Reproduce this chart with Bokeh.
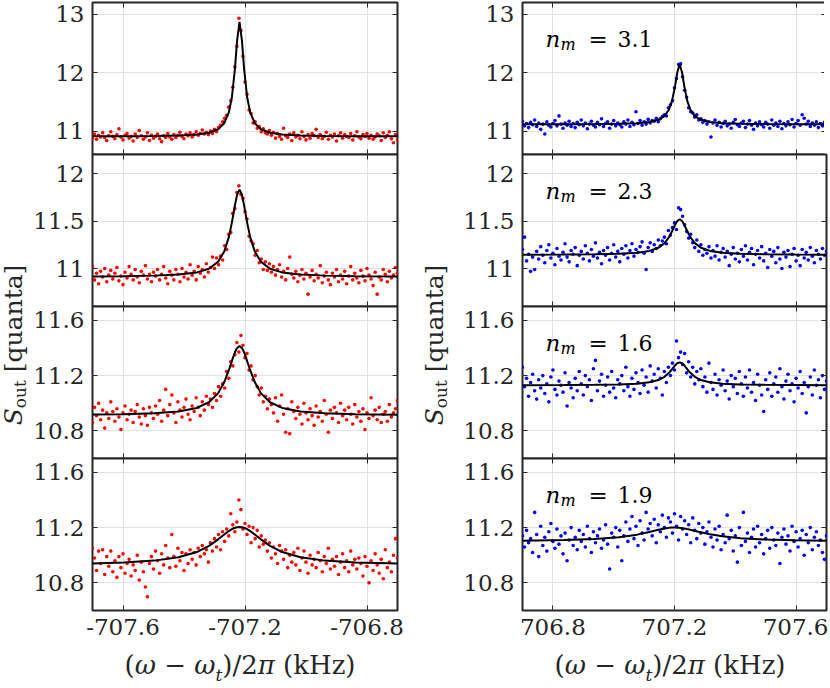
import numpy as np
from bokeh.plotting import figure
from bokeh.models import (FixedTicker, CustomJSTickFormatter, LinearAxis, Range1d,
                          Label, Div)
from bokeh.layouts import row, column
from bokeh.embed import file_html
from bokeh.resources import INLINE

# ---------------- data ----------------
left_sweep = (-707.70, -706.70)     # kHz, frequency sweep of the red traces
right_sweep = (706.70, 707.70)      # kHz, frequency sweep of the blue traces

left_xticks = [-707.6, -707.2, -706.8]
right_xticks = [706.8, 707.2, 707.6]
row_yticks = [[11, 12, 13], [11, 11.5, 12], [10.8, 11.2, 11.6], [10.8, 11.2, 11.6]]
row_yranges = [(10.6, 13.2), (10.6, 12.2), (10.6, 11.7), (10.6, 11.7)]
nm_values = ["3.1", "2.3", "1.6", "1.9"]

L1_y = [10.88, 10.95, 10.86, 10.93, 10.90, 10.97, 10.89, 10.84, 10.92, 10.99,
        10.91, 10.87, 10.94, 11.04, 10.90, 10.85, 10.93, 10.96, 10.88, 10.91,
        10.83, 10.95, 10.89, 11.01, 10.92, 10.86, 10.90, 10.97, 10.84, 10.93,
        10.88, 10.91, 10.95, 10.87, 10.82, 10.92, 10.89, 10.96, 10.90, 10.86,
        10.94, 10.89, 10.93, 10.98, 10.91, 10.87, 10.95, 10.92, 10.97, 10.90,
        10.94, 10.99, 10.93, 10.96, 11.02, 10.95, 10.98, 10.94, 11.00, 10.96,
        11.03, 10.99, 11.06, 11.10, 11.16, 11.22,
        11.27, 11.41, 11.52, 11.75, 12.10, 12.45, 12.93, 12.72, 12.28, 11.84,
        11.63, 11.36, 11.30, 11.14, 11.16, 11.05, 11.08, 10.99, 11.04, 10.97,
        10.95, 11.01, 10.93, 10.98, 10.88, 10.96, 10.91, 10.86, 11.05, 10.92,
        10.89, 10.95, 10.84, 10.97, 10.90, 10.93, 10.87, 10.99, 10.91, 10.85,
        10.94, 10.88, 10.96, 10.92, 11.03, 10.89, 10.94, 10.87, 10.91, 10.98,
        10.86, 10.93, 10.90, 10.95, 10.83, 10.92, 10.97, 10.88, 10.94, 10.91,
        10.89, 10.96, 10.85, 10.92, 10.99, 10.90, 10.87, 10.94, 10.91, 10.96,
        10.88, 10.93, 10.86, 10.90, 10.95, 10.92, 10.84, 10.97, 10.89, 10.93,
        10.99, 10.87, 10.80, 10.94, 10.85]

L2_y = [11.02, 10.88, 10.95, 10.84, 10.97, 10.91, 11.00, 10.86, 10.93, 10.98,
        10.89, 10.95, 11.01, 10.87, 10.92, 10.83, 10.96, 10.90, 11.02, 10.94,
        10.88, 10.99, 10.91, 10.85, 10.97, 10.93, 11.03, 10.89, 10.94, 10.86,
        10.96, 10.92, 10.99, 10.88, 10.94, 11.02, 10.90, 10.84, 10.97, 10.93,
        10.88, 10.99, 10.94, 10.86, 11.00, 10.91, 10.96, 10.89, 11.04, 10.93,
        10.97, 10.88, 11.02, 10.95, 10.99, 10.91, 11.05, 10.96, 11.01, 11.12,
        11.00, 11.11, 11.04, 11.13, 11.09, 11.24, 11.20, 11.36, 11.38, 11.58,
        11.63, 11.80, 11.87, 11.78, 11.74, 11.60, 11.52, 11.34, 11.29, 11.26,
        11.14, 11.19, 11.06, 11.10, 10.99, 11.07, 10.98, 11.05, 10.96, 11.02,
        10.93, 10.99, 11.04, 10.91, 10.97, 10.88, 11.00, 11.12, 10.94, 10.90,
        10.97, 10.86, 10.93, 10.99, 10.89, 10.95, 10.73, 10.91, 10.98, 10.87,
        10.94, 10.90, 11.03, 10.85, 10.92, 10.96, 10.88, 10.83, 10.95, 10.91,
        10.99, 10.86, 10.93, 10.89, 10.97, 10.84, 10.92, 11.02, 10.88, 10.95,
        10.90, 10.85, 10.98, 10.92, 10.87, 11.00, 10.93, 10.89, 10.82, 10.96,
        10.73, 10.91, 10.88, 10.99, 10.94, 10.86, 10.97, 10.90, 10.93, 11.01,
        10.95]

L3_y = [10.86, 10.97, 10.91, 11.00, 10.88, 10.95, 10.82, 10.93, 10.89, 11.01,
        10.94, 10.87, 10.96, 10.90, 10.81, 10.93, 10.98, 10.88, 10.92, 10.95,
        10.86, 10.94, 10.99, 10.90, 10.85, 10.96, 10.91, 10.84, 10.97, 10.93,
        10.89, 10.98, 10.92, 11.02, 10.87, 10.95, 11.10, 10.91, 10.99, 11.06,
        10.93, 10.86, 11.01, 10.95, 10.90, 10.97, 11.03, 10.92, 10.88, 10.98,
        10.94, 11.04, 10.97, 10.91, 11.01, 10.95, 11.05, 10.99, 11.03, 10.97,
        11.07, 11.02, 11.12, 11.05, 11.14, 11.11, 11.23, 11.18, 11.30, 11.27,
        11.35, 11.44, 11.37, 11.49, 11.42, 11.33, 11.36, 11.24, 11.27, 11.17,
        11.20, 11.12, 11.06, 11.11, 11.01, 11.05, 10.96, 11.03, 10.99, 10.93,
        11.04, 10.87, 10.98, 11.06, 10.92, 10.79, 10.96, 10.78, 11.01, 10.94,
        10.89, 10.97, 10.92, 10.85, 11.00, 10.93, 10.88, 10.96, 10.91, 10.84,
        10.98, 10.90, 10.94, 10.87, 11.02, 10.92, 10.79, 10.95, 10.89, 10.97,
        10.93, 10.86, 11.00, 10.91, 10.95, 10.88, 10.97, 10.92, 10.85, 10.99,
        10.90, 10.94, 10.87, 10.96, 10.81, 10.93, 10.89, 11.04, 10.91, 10.95,
        10.88, 10.97, 10.86, 10.92, 10.94, 10.87, 10.99, 10.90, 10.93, 10.96,
        11.02]

L4_y = [11.05, 10.98, 10.89, 11.03, 10.94, 11.04, 10.86, 10.99, 10.92, 11.03,
        10.88, 10.96, 10.84, 10.99, 10.91, 11.01, 10.87, 10.94, 10.97, 10.85,
        10.93, 10.89, 11.00, 10.82, 10.95, 10.88, 10.77, 10.70, 10.94, 10.99,
        10.90, 11.03, 10.96, 10.87, 11.01, 10.93, 11.07, 10.98, 10.91, 11.15,
        10.99, 10.92, 11.05, 10.96, 11.02, 10.89, 11.01, 10.94, 11.04, 10.97,
        11.02, 10.93, 11.05, 10.99, 11.07, 11.01, 11.04, 10.95, 11.09, 11.03,
        11.12, 11.06, 11.15, 11.04, 11.17, 11.10, 11.19, 11.14, 11.30, 11.22,
        11.17, 11.24, 11.40, 11.33, 11.19, 11.23, 11.15, 11.21, 11.09, 11.20,
        11.12, 11.18, 11.06, 11.14, 11.08, 11.11, 11.03, 11.09, 10.98, 11.06,
        11.01, 10.94, 11.07, 11.03, 10.97, 11.04, 10.91, 11.00, 10.95, 11.02,
        10.93, 11.05, 10.89, 10.98, 11.03, 10.95, 10.87, 11.00, 10.93, 10.97,
        10.91, 11.02, 10.96, 10.88, 10.99, 10.94, 11.05, 10.90, 10.97, 10.92,
        10.99, 10.86, 10.95, 11.01, 10.91, 10.96, 10.88, 11.03, 10.93, 10.97,
        10.90, 10.98, 10.94, 10.85, 10.99, 10.92, 10.80, 10.96, 10.89, 11.01,
        10.93, 10.87, 10.97, 10.83, 11.04, 10.91, 10.95, 10.88, 11.00, 11.12,
        10.98]

R1_y = [11.17, 11.09, 11.13, 11.06, 11.15, 11.11, 11.19, 11.08, 11.14, 11.03,
        11.12, 10.95, 11.16, 11.10, 11.07, 11.13, 11.18, 11.09, 11.26, 11.12,
        11.05, 11.14, 11.10, 11.17, 11.08, 11.13, 11.06, 11.15, 11.11, 11.19,
        11.09, 11.14, 11.04, 11.12, 11.17, 11.10, 11.07, 11.15, 11.11, 11.21,
        11.08, 11.13, 11.16, 11.05, 11.12, 11.18, 11.09, 11.14, 11.11, 11.07,
        11.16, 11.12, 11.19, 11.08, 11.15, 11.11, 11.33, 11.13, 11.18, 11.10,
        11.16, 11.12, 11.20, 11.14, 11.18, 11.17, 11.22, 11.16, 11.21, 11.25,
        11.28, 11.26, 11.40, 11.45, 11.52, 11.74, 11.90, 12.14, 12.15, 11.93,
        11.70, 11.58, 11.40, 11.33, 11.31, 11.24, 11.28, 11.19, 11.21, 11.15,
        11.18, 11.12, 11.16, 10.90, 11.14, 11.19, 11.10, 11.15, 11.07, 11.13,
        11.17, 11.09, 11.12, 11.05, 11.15, 11.20, 11.11, 11.08, 11.14, 11.17,
        11.06, 11.12, 11.18, 11.10, 11.03, 11.14, 11.09, 11.16, 11.11, 11.07,
        11.15, 11.12, 11.05, 11.19, 11.10, 11.14, 11.08, 11.17, 11.04, 11.13,
        11.09, 11.16, 11.11, 11.20, 11.07, 11.13, 11.18, 11.10, 11.28, 11.22,
        11.12, 11.17, 11.08, 11.14, 11.10, 11.16, 11.06, 11.13, 11.09, 11.15,
        11.11]

R2_y = [11.20, 11.33, 11.08, 11.15, 10.97, 11.12, 10.99, 11.18, 11.10, 11.23,
        11.14, 11.06, 11.19, 11.25, 11.11, 11.16, 11.04, 11.21, 11.13, 11.09,
        11.17, 11.26, 11.12, 11.07, 11.19, 11.15, 11.22, 11.03, 11.14, 11.18,
        11.10, 11.24, 11.16, 11.08, 11.20, 11.13, 11.27, 11.11, 11.17, 11.05,
        11.19, 11.14, 11.22, 11.09, 11.16, 11.25, 11.12, 11.18, 11.07, 11.21,
        11.15, 11.24, 11.11, 11.19, 11.26, 11.13, 11.20, 11.17, 11.23, 11.28,
        11.16, 10.99, 11.22, 11.27, 11.18, 11.25, 11.21, 11.30, 11.24, 11.29,
        11.33, 11.26, 11.40, 11.35, 11.43, 11.48, 11.41, 11.64, 11.62, 11.55,
        11.46, 11.39, 11.32, 11.36, 11.27, 11.22, 11.30, 11.18, 11.25, 11.14,
        11.20, 11.16, 11.23, 11.11, 11.19, 11.13, 11.24, 11.09, 11.17, 11.21,
        11.12, 11.18, 11.03, 11.15, 11.22, 11.10, 11.16, 11.07, 11.20, 11.13,
        11.24, 11.09, 11.17, 11.21, 11.04, 11.15, 11.19, 11.11, 11.23, 11.08,
        11.16, 11.01, 11.20, 11.13, 11.18, 11.06, 11.22, 11.10, 11.00, 11.17,
        11.12, 11.19, 11.02, 11.15, 11.21, 11.08, 11.14, 11.03, 11.20, 11.11,
        11.17, 11.09, 11.22, 11.13, 11.06, 11.19, 11.15, 11.10, 11.21, 11.14,
        11.18]

R3_y = [11.26, 11.12, 11.18, 11.05, 11.15, 11.21, 11.09, 11.03, 11.17, 11.11,
        11.20, 11.07, 11.14, 11.01, 11.19, 11.24, 11.10, 11.06, 11.16, 11.13,
        11.08, 11.22, 10.98, 11.15, 11.11, 11.04, 11.18, 11.09, 11.23, 11.14,
        11.06, 11.20, 11.12, 11.17, 11.02, 11.25, 11.31, 11.09, 11.16, 11.21,
        11.05, 11.13, 11.19, 11.08, 11.23, 11.11, 11.04, 11.17, 11.14, 11.20,
        11.09, 11.26, 11.12, 11.05, 11.18, 11.10, 11.22, 11.15, 11.07, 11.24,
        11.13, 11.19, 11.08, 11.27, 11.16, 11.21, 11.11, 11.25, 11.18, 11.06,
        11.23, 11.15, 11.26, 11.20, 11.29, 11.24, 11.45, 11.33, 11.37, 11.28,
        11.36, 11.22, 11.30, 11.19, 11.26, 11.14, 11.23, 11.17, 11.25, 11.12,
        11.19, 11.08, 11.29, 11.15, 11.10, 11.21, 11.06, 11.17, 11.13, 11.24,
        11.09, 11.16, 11.03, 11.20, 11.12, 11.18, 11.07, 11.23, 11.14, 11.05,
        11.19, 11.11, 11.24, 11.08, 11.15, 11.02, 11.21, 11.13, 11.06, 10.94,
        11.17, 11.10, 11.22, 11.05, 11.14, 11.19, 11.08, 11.25, 11.12, 11.03,
        11.16, 11.21, 11.09, 11.14, 11.01, 11.18, 11.11, 11.23, 11.07, 11.15,
        10.93, 11.12, 11.19, 11.06, 11.24, 11.13, 11.17, 11.04, 11.20, 11.10,
        11.16]

R4_y = [11.14, 11.06, 11.18, 11.09, 11.12, 11.02, 11.31, 11.15, 10.99, 11.21,
        11.07, 11.13, 11.03, 11.17, 11.23, 11.10, 11.05, 11.19, 11.08, 11.14,
        11.01, 11.16, 10.96, 11.11, 11.20, 11.07, 11.13, 11.04, 11.18, 11.10,
        11.15, 11.06, 11.21, 11.12, 11.02, 11.17, 11.09, 11.14, 11.19, 11.05,
        11.11, 11.22, 11.08, 10.90, 11.16, 11.13, 11.20, 11.06, 11.18, 10.96,
        11.14, 11.24, 11.10, 11.19, 11.28, 11.12, 11.21, 11.07, 11.25, 11.16,
        11.11, 11.31, 11.19, 11.23, 11.14, 11.26, 11.09, 11.22, 11.17, 11.29,
        11.20, 11.13, 11.27, 11.24, 11.16, 11.30, 11.21, 11.11, 11.28, 11.19,
        11.25, 11.15, 11.22, 11.09, 11.27, 11.18, 11.12, 11.23, 11.16, 11.20,
        11.08, 11.17, 11.24, 11.13, 11.06, 11.19, 11.11, 11.21, 11.04, 11.15,
        11.09, 11.29, 11.12, 11.18, 11.03, 11.14, 10.95, 11.20, 11.07, 11.31,
        11.10, 11.16, 11.02, 11.13, 11.19, 11.06, 11.21, 11.09, 11.15, 11.01,
        11.12, 11.18, 11.05, 11.20, 11.11, 11.07, 11.16, 10.94, 11.13, 11.19,
        11.08, 11.14, 11.03, 11.21, 11.10, 11.17, 11.06, 11.12, 11.18, 11.00,
        11.15, 11.09, 11.20, 11.04, 11.13, 11.17, 11.07, 11.11, 11.02, 10.97,
        11.14]

# fitted Lorentzian curves
left_fit_x = [-707.700, -707.598, -707.498, -707.418, -707.358, -707.318, -707.288,
              -707.268, -707.253, -707.243, -707.233, -707.226, -707.218, -707.210,
              -707.203, -707.193, -707.183, -707.168, -707.148, -707.118, -707.078,
              -707.018, -706.938, -706.838, -706.700]
right_fit_x = [706.700, 706.837, 706.937, 707.017, 707.077, 707.117, 707.147, 707.167,
               707.182, 707.192, 707.202, 707.209, 707.217, 707.225, 707.232, 707.242,
               707.252, 707.267, 707.287, 707.317, 707.357, 707.417, 707.497, 707.597,
               707.700]

L1_fit = [10.913, 10.914, 10.918, 10.926, 10.942, 10.972, 11.032, 11.135, 11.320, 11.579,
          12.067, 12.547, 12.870, 12.547, 12.067, 11.579, 11.320, 11.135, 11.032, 10.972,
          10.942, 10.926, 10.918, 10.914, 10.912]
L2_fit = [10.917, 10.919, 10.925, 10.936, 10.959, 10.998, 11.072, 11.180, 11.330, 11.483,
          11.665, 11.776, 11.830, 11.776, 11.665, 11.483, 11.330, 11.180, 11.072, 10.998,
          10.959, 10.936, 10.925, 10.919, 10.916]
L3_fit = [10.918, 10.921, 10.927, 10.940, 10.966, 11.007, 11.073, 11.153, 11.239, 11.306,
          11.369, 11.400, 11.413, 11.400, 11.369, 11.306, 11.239, 11.153, 11.073, 11.007,
          10.966, 10.940, 10.927, 10.921, 10.917]
L4_fit = [10.941, 10.948, 10.961, 10.985, 11.023, 11.068, 11.115, 11.150, 11.175, 11.189,
          11.199, 11.203, 11.205, 11.203, 11.199, 11.189, 11.175, 11.150, 11.115, 11.068,
          11.023, 10.985, 10.961, 10.948, 10.940]
R1_fit = [11.117, 11.118, 11.120, 11.125, 11.136, 11.155, 11.193, 11.257, 11.369, 11.517,
          11.774, 12.003, 12.145, 12.003, 11.774, 11.517, 11.369, 11.257, 11.193, 11.155,
          11.136, 11.125, 11.120, 11.118, 11.117]
R2_fit = [11.146, 11.147, 11.150, 11.155, 11.166, 11.185, 11.219, 11.267, 11.331, 11.392,
          11.460, 11.500, 11.518, 11.500, 11.460, 11.392, 11.331, 11.267, 11.219, 11.185,
          11.166, 11.155, 11.150, 11.147, 11.146]
R3_fit = [11.131, 11.132, 11.133, 11.136, 11.141, 11.151, 11.168, 11.191, 11.220, 11.246,
          11.274, 11.289, 11.296, 11.289, 11.274, 11.246, 11.220, 11.191, 11.168, 11.151,
          11.141, 11.136, 11.133, 11.132, 11.131]
R4_fit = [11.105, 11.110, 11.117, 11.130, 11.149, 11.168, 11.184, 11.193, 11.198, 11.200,
          11.200, 11.199, 11.198, 11.196, 11.193, 11.189, 11.184, 11.176, 11.166, 11.151,
          11.137, 11.123, 11.114, 11.108, 11.105]

# ---------------- style ----------------
FONT = "DejaVu Serif"
AXC = "#262626"
GRIDC = "#e2e2e2"
FH = 152          # frame height of each panel
OV = 14           # hidden overlap between stacked canvases

num_fmt = "return (Math.round(tick*10)/10).toString();"
blank_fmt = "return '';"


def style_axis(ax, ticks, labelled):
    ax.ticker = FixedTicker(ticks=ticks)
    ax.formatter = CustomJSTickFormatter(code=num_fmt if labelled else blank_fmt)
    ax.major_tick_in = 5
    ax.major_tick_out = 0
    ax.minor_tick_in = 0
    ax.minor_tick_out = 0
    ax.minor_tick_line_color = None
    ax.axis_line_color = None
    ax.major_tick_line_color = AXC
    ax.major_tick_line_width = 1
    ax.major_label_text_font = FONT
    ax.major_label_text_color = AXC
    ax.major_label_text_font_size = "23px" if labelled else "0px"
    ax.major_label_standoff = 8 if labelled else 0


def make_panel(xr, xticks, r, ys, fx, fy, color, fw, mbr, nm=None):
    yr = row_yranges[r]
    yt = row_yticks[r]
    top = r == 0
    bottom = r == 3
    p = figure(frame_width=fw, frame_height=FH,
               x_range=Range1d(*xr), y_range=Range1d(*yr),
               output_backend="svg", toolbar_location=None,
               min_border_left=58, min_border_right=mbr,
               min_border_top=2 if top else OV,
               min_border_bottom=40 if bottom else OV,
               margin=(0 if top else -OV, 0, 0 if bottom else -OV, 0),
               background_fill_color="white", border_fill_color=None)
    style_axis(p.xaxis[0], xticks, bottom)
    style_axis(p.yaxis[0], yt, True)
    up = LinearAxis()
    style_axis(up, xticks, False)
    p.add_layout(up, "above")
    rt = LinearAxis()
    style_axis(rt, yt, False)
    p.add_layout(rt, "right")

    p.xgrid.ticker = FixedTicker(ticks=xticks)
    p.ygrid.ticker = FixedTicker(ticks=yt)
    p.grid.grid_line_color = GRIDC
    p.grid.grid_line_width = 1
    p.outline_line_color = AXC
    p.outline_line_width = 2

    xs = np.linspace(xr[0], xr[1], len(ys))
    p.scatter(xs, ys, size=3.6, fill_color=color, line_color=None)
    p.line(fx, fy, line_color="black", line_width=2)

    if nm is not None:
        x0 = xr[0] + 0.076 * (xr[1] - xr[0])
        y0 = yr[1] - 0.243 * (yr[1] - yr[0])
        common = dict(x=x0, y=y0, text_font=FONT, text_color="black",
                      text_baseline="alphabetic")
        p.add_layout(Label(text="n", text_font_style="italic",
                           text_font_size="23px", **common))
        p.add_layout(Label(text="m", text_font_style="italic", x_offset=15,
                           y_offset=-5, text_font_size="16px", **common))
        p.add_layout(Label(text="=", x_offset=43, text_font_size="23px", **common))
        p.add_layout(Label(text=nm, x_offset=72, text_font_size="22px", **common))
    return p


left_data = [(L1_y, L1_fit), (L2_y, L2_fit), (L3_y, L3_fit), (L4_y, L4_fit)]
right_data = [(R1_y, R1_fit), (R2_y, R2_fit), (R3_y, R3_fit), (R4_y, R4_fit)]

left_panels = [make_panel(left_sweep, left_xticks, i, d[0], left_fit_x, d[1],
                          "#ff0000", 305, 8) for i, d in enumerate(left_data)]
right_panels = [make_panel(right_sweep, right_xticks, i, d[0], right_fit_x, d[1],
                           "#0000ff", 304, 2, nm_values[i]) for i, d in enumerate(right_data)]

LAB_STYLE = ("white-space:nowrap;font-family:'DejaVu Serif',serif;"
             "color:#262626;line-height:1;")


def ylab_div(w, cx):
    html = (f'<div style="position:relative;width:{w}px;height:610px;">'
            f'<div style="position:absolute;left:{cx}px;top:345px;writing-mode:vertical-rl;'
            f'transform:translate(-50%,-50%) rotate(180deg);font-size:25px;{LAB_STYLE}">'
            '<i>S</i><sub style="font-size:17px;">out</sub>&nbsp;[quanta]</div></div>')
    return Div(text=html, width=w, height=610, margin=0)


def xlab_div(w, cx):
    html = (f'<div style="position:relative;width:{w}px;height:36px;">'
            f'<div style="position:absolute;left:{cx}px;top:18px;'
            f'transform:translate(-50%,-50%);font-size:26px;{LAB_STYLE}">'
            '(<i>ω</i> − <i>ω</i><sub style="font-size:17px;"><i>t</i></sub>)/2<i>π</i>'
            '&nbsp;(kHz)</div></div>')
    return Div(text=html, width=w, height=36, margin=0)


left_col = column(*left_panels, xlab_div(371, 210), spacing=0)
right_col = column(*right_panels, xlab_div(364, 210), spacing=0)
layout = row(ylab_div(30, 15), left_col, ylab_div(55, 31), right_col, spacing=0)

open("out.html", "w").write(file_html(layout, INLINE))
